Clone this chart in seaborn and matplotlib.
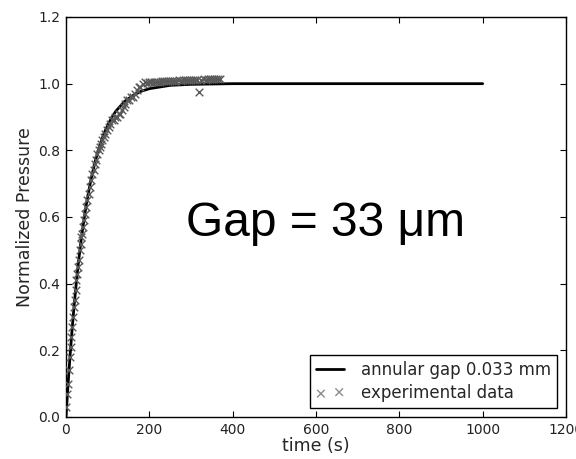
import matplotlib
matplotlib.use("Agg")
import matplotlib.pyplot as plt
import seaborn as sns
import pandas as pd

# model curve (annular gap 0.033 mm)
model_t = [0, 5, 10, 15, 20, 25, 30, 35, 40, 45, 50, 60, 70, 80, 90, 100, 110, 120,
           140, 160, 180, 200, 250, 300, 400, 1000]
model_p = [0.0, 0.099, 0.188, 0.268, 0.341, 0.406, 0.465, 0.518, 0.565, 0.608, 0.647,
           0.713, 0.767, 0.811, 0.847, 0.875, 0.899, 0.918, 0.946, 0.964, 0.977, 0.985,
           0.995, 0.998, 1.0, 1.0]

# experimental data
exp_t = [1, 3, 5, 7, 9, 11, 13, 15, 17, 19, 21, 23, 25, 27, 29, 31, 33, 35, 37, 39,
         41, 43, 45, 48, 51, 54, 57, 60, 63, 66, 69, 72, 75, 78, 81, 84, 87, 90, 94, 98,
         102, 106, 110, 114, 118, 122, 126, 130, 134, 138, 142, 146, 150, 155, 160, 165,
         170, 175, 178,
         185, 190, 195, 200, 205, 210, 215, 220, 225, 230, 235, 240, 245, 250, 255, 260,
         265, 270, 275, 280, 285, 290, 295, 300, 305, 310, 315, 320, 325, 330, 335, 340,
         345, 350, 355, 360, 365, 370]
exp_p = [0.03, 0.07, 0.10, 0.14, 0.18, 0.21, 0.24, 0.27, 0.30, 0.33, 0.35, 0.38, 0.41,
         0.43, 0.45, 0.47, 0.50, 0.52, 0.54, 0.55, 0.57, 0.59, 0.61, 0.63, 0.65, 0.67,
         0.69, 0.71, 0.73, 0.74, 0.76, 0.77, 0.79, 0.80, 0.81, 0.82, 0.83, 0.84, 0.85,
         0.86, 0.87, 0.88, 0.89, 0.89, 0.90, 0.90, 0.91, 0.91, 0.92, 0.93, 0.94, 0.95,
         0.95, 0.96, 0.96, 0.97, 0.98, 0.99, 0.99,
         1.000, 1.005, 1.003, 1.005, 1.004, 1.006, 1.005, 1.006, 1.005, 1.007, 1.008,
         1.007, 1.008, 1.008, 1.009, 1.008, 1.009, 1.010, 1.009, 1.010, 1.010, 1.011,
         1.010, 1.011, 1.012, 1.011, 1.012, 0.975, 1.012, 1.013, 1.012, 1.013, 1.013,
         1.014, 1.013, 1.014, 1.014, 1.013]

sns.set_style("white")
plt.rcParams['font.family'] = ['DejaVu Sans']

fig = plt.figure(figsize=(5.76, 4.59), dpi=100)
left, right, bottom, top = 66 / 576, 566 / 576, 1 - 417 / 459, 1 - 17 / 459
ax = fig.add_axes([left, bottom, right - left, top - bottom])

model_df = pd.DataFrame({"t": model_t, "p": model_p})
exp_df = pd.DataFrame({"t": exp_t, "p": exp_p})

sns.lineplot(data=model_df, x="t", y="p", ax=ax, color="black", linewidth=2,
             label="annular gap 0.033 mm")
sns.scatterplot(data=exp_df, x="t", y="p", ax=ax, marker="x", color="0.35",
                s=30, linewidth=1, label="experimental data", zorder=3)

ax.set_xlim(0, 1200)
ax.set_ylim(0, 1.2)
ax.set_xticks([0, 200, 400, 600, 800, 1000, 1200])
ax.set_yticks([0.0, 0.2, 0.4, 0.6, 0.8, 1.0, 1.2])
ax.set_yticklabels(["0.0", "0.2", "0.4", "0.6", "0.8", "1.0", "1.2"])
ax.set_xlabel("time (s)", fontsize=12.5, labelpad=0.5)
ax.set_ylabel("Normalized Pressure", fontsize=12.5, labelpad=3)
ax.tick_params(direction="in", length=4, width=0.8, labelsize=10, top=True, right=True,
               bottom=True, left=True, colors="black", pad=4)
for lab in ax.get_xticklabels() + ax.get_yticklabels():
    lab.set_color("#222222")
for sp in ax.spines.values():
    sp.set_color("black")
    sp.set_linewidth(1)

ax.text(622, 0.543, "Gap = 33 μm", fontsize=34.5, family=["Liberation Sans"],
        ha="center", va="baseline", color="black")

handles, labels = ax.get_legend_handles_labels()
leg = ax.legend(handles, labels, loc="lower right", fontsize=12, frameon=True,
                fancybox=False, framealpha=1, edgecolor="black", borderaxespad=0.55,
                scatterpoints=2, handlelength=1.7, handletextpad=1.0,
                borderpad=0.35, labelspacing=0.3)
leg.get_frame().set_linewidth(1)
for h in leg.legend_handles:
    try:
        h.set_color("0.55")
    except Exception:
        pass
leg.legend_handles[0].set_color("black")

fig.savefig("out.png", dpi=100)
